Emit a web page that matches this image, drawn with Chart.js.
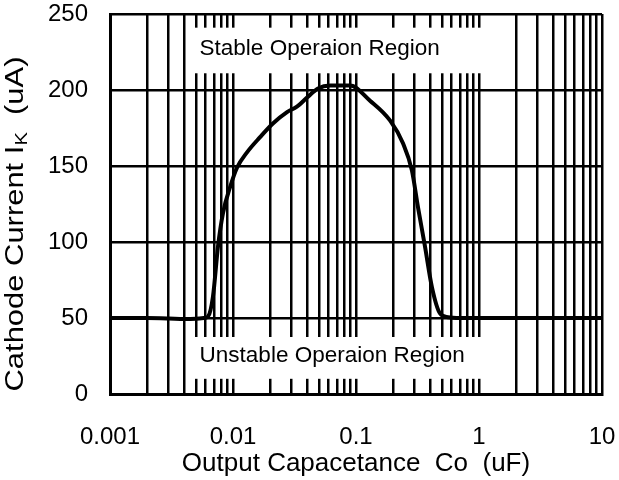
<!DOCTYPE html>
<html lang="en">
<head>
    <meta charset="UTF-8">
    <title>Cathode Current vs Output Capacitance</title>
    <script src="https://cdn.jsdelivr.net/npm/chart.js"></script>
    <style>
        html, body { margin: 0; padding: 0; background: #ffffff; }
        #grafico { display: block; }
    </style>
</head>
<body>
    <canvas id="grafico" width="619" height="480"></canvas>
<script>
    // capacitance (uF) and cathode current (uA)
    const capacitancia = [0.001, 0.002, 0.003, 0.004, 0.005, 0.0058, 0.00627, 0.00687, 0.00755, 0.00829,
        0.00946, 0.0108, 0.013, 0.0166, 0.0211, 0.0275, 0.0331, 0.04, 0.0491, 0.0615,
        0.0894, 0.13, 0.189, 0.241, 0.285, 0.319, 0.364, 0.415, 0.482, 0.56,
        0.7, 1, 2, 5, 10];
    const corrente = [50, 50, 49.7, 49.3, 49.5, 50, 51, 64, 97, 119,
        136, 149, 159, 169, 178, 185.5, 189, 195, 201, 203,
        203, 193, 180, 165, 147, 123, 97, 70, 53, 50.5,
        50, 50, 50, 50, 50];

    const decadas = [0.001, 0.01, 0.1, 1, 10];
    const yTicks = [0, 50, 100, 150, 200, 250];
    const regioes = [
        { texto: 'Stable Operaion Region', y1: 241, y2: 211, yTexto: 227 },
        { texto: 'Unstable Operaion Region', y1: 37.5, y2: 10, yTexto: 25 }
    ];

    const fonte = 'Liberation Sans, Arial, sans-serif';

    function semPadding(scale) {
        scale.paddingLeft = 0;
        scale.paddingRight = 0;
        scale.paddingTop = 0;
        scale.paddingBottom = 0;
    }

    // white label boxes over the grid
    const caixasRegiao = {
        id: 'caixasRegiao',
        beforeDatasetsDraw(chart) {
            const { ctx, scales: { x, y } } = chart;
            ctx.save();
            regioes.forEach(r => {
                const xa = x.getPixelForValue(0.00447);
                const xb = x.getPixelForValue(1.4);
                const ya = y.getPixelForValue(r.y1);
                const yb = y.getPixelForValue(r.y2);
                ctx.fillStyle = '#ffffff';
                ctx.fillRect(xa, ya, xb - xa, yb - ya);
                ctx.fillStyle = '#000000';
                ctx.font = '22.5px ' + fonte;
                ctx.textAlign = 'left';
                ctx.textBaseline = 'middle';
                ctx.fillText(r.texto, x.getPixelForValue(0.00535), y.getPixelForValue(r.yTexto));
            });
            ctx.restore();
        }
    };

    // y axis title with subscript K
    const tituloY = {
        id: 'tituloY',
        afterDraw(chart) {
            const { ctx } = chart;
            const partes = [
                { t: 'Cathode Current I', f: '26px ' + fonte, dy: 0 },
                { t: 'K', f: '17px ' + fonte, dy: 6 },
                { t: '  (uA)', f: '26px ' + fonte, dy: 0 }
            ];
            ctx.save();
            ctx.fillStyle = '#000000';
            ctx.textBaseline = 'middle';
            ctx.textAlign = 'left';
            let total = 0;
            partes.forEach(p => { ctx.font = p.f; total += ctx.measureText(p.t).width; });
            const comprimento = 335;
            ctx.translate(16, 224);
            ctx.rotate(-Math.PI / 2);
            ctx.scale(comprimento / total, 1);
            let pos = -total / 2;
            partes.forEach(p => {
                ctx.font = p.f;
                ctx.fillText(p.t, pos, p.dy);
                pos += ctx.measureText(p.t).width;
            });
            ctx.restore();
        }
    };

    const ctx = document.getElementById('grafico').getContext('2d');
    window.grafico = new Chart(ctx, {
        type: 'scatter',
        data: {
            datasets: [{
                label: 'Ik',
                data: capacitancia.map((c, i) => ({ x: c, y: corrente[i] })),
                showLine: true,
                borderColor: '#000000',
                borderWidth: 4,
                pointRadius: 0,
                cubicInterpolationMode: 'monotone'
            }]
        },
        options: {
            responsive: false,
            animation: false,
            layout: { padding: { top: 14, right: 17, left: 0, bottom: 0 } },
            plugins: {
                legend: { display: false },
                tooltip: { enabled: false }
            },
            scales: {
                x: {
                    type: 'logarithmic',
                    min: 0.001,
                    max: 10,
                    afterFit(scale) { scale.height = 86; semPadding(scale); },
                    afterBuildTicks(scale) {
                        const t = [];
                        decadas.forEach((d, i) => {
                            if (i === decadas.length - 1) { t.push({ value: d }); return; }
                            for (let k = 1; k <= 9; k++) t.push({ value: d * k });
                        });
                        scale.ticks = t;
                    },
                    grid: { color: '#000000', lineWidth: 2.5, drawTicks: false },
                    border: { color: '#000000', width: 3 },
                    ticks: {
                        color: '#000000',
                        padding: 29,
                        maxRotation: 0,
                        autoSkip: false,
                        font: { family: fonte, size: 24 },
                        callback(v) {
                            const d = decadas.find(q => Math.abs(q - v) / q < 1e-6);
                            return d !== undefined ? String(d) : '';
                        }
                    },
                    title: {
                        display: true,
                        text: 'Output Capacetance  Co  (uF)',
                        color: '#000000',
                        font: { family: fonte, size: 26 },
                        padding: { top: 0, bottom: 1 }
                    }
                },
                y: {
                    min: 0,
                    max: 250,
                    afterFit(scale) { scale.width = 110; semPadding(scale); },
                    afterBuildTicks(scale) { scale.ticks = yTicks.map(v => ({ value: v })); },
                    grid: { color: '#000000', lineWidth: 2.5, drawTicks: false },
                    border: { color: '#000000', width: 3 },
                    ticks: {
                        color: '#000000',
                        padding: 22,
                        font: { family: fonte, size: 24 }
                    }
                }
            }
        },
        plugins: [caixasRegiao, tituloY]
    });
</script>
</body>
</html>
